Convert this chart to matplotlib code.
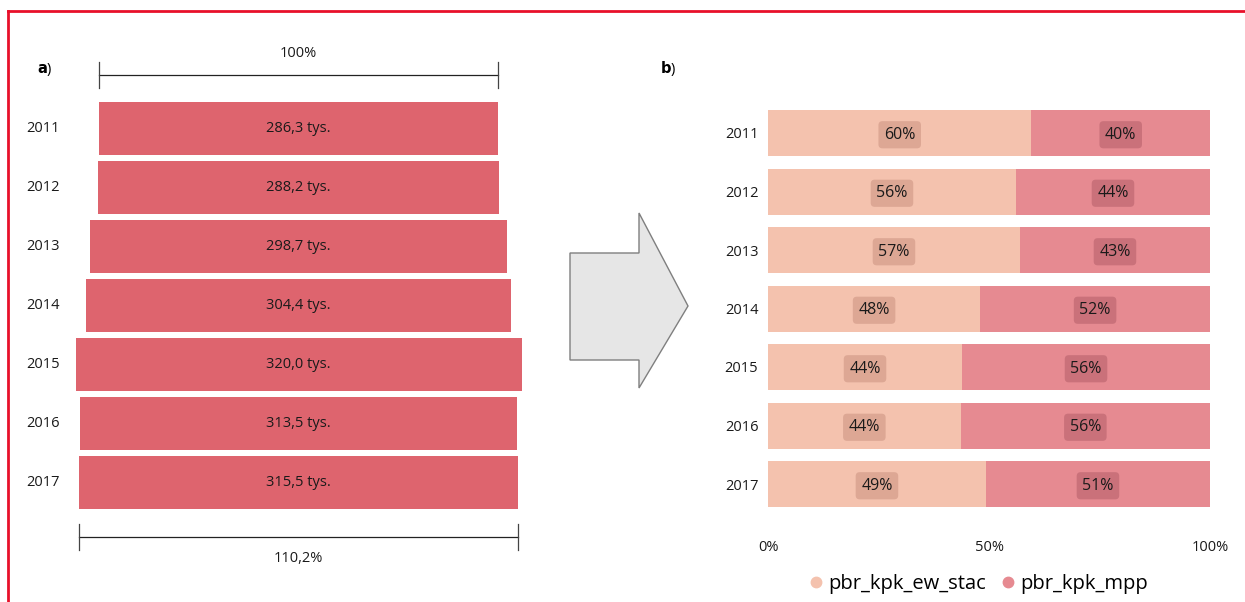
import numpy as np
import matplotlib
matplotlib.use("Agg")
import matplotlib.pyplot as plt
from matplotlib.lines import Line2D
from matplotlib.patches import Polygon
from matplotlib.transforms import blended_transform_factory

plt.rcParams['font.family'] = ['Open Sans', 'DejaVu Sans']

# ---------------- data ----------------
years = ['2011', '2012', '2013', '2014', '2015', '2016', '2017']
totals = [286.3, 288.2, 298.7, 304.4, 320.0, 313.5, 315.5]   # tys.
share_stac = [59.6, 56.1, 57.0, 48.0, 43.9, 43.6, 49.3]       # %
share_mpp = [100 - s for s in share_stac]
series_names = ['pbr_kpk_ew_stac', 'pbr_kpk_mpp']

c_left = '#DE646E'
c_stac = '#F4C2AE'
c_mpp = '#E68A91'

W, H = 1245, 602
fig = plt.figure(figsize=(W / 100, H / 100), dpi=100)


def px_axes(x0, y0, x1, y1):
    # axes placed by pixel box (top-left origin)
    return fig.add_axes([x0 / W, 1 - y1 / H, (x1 - x0) / W, (y1 - y0) / H])


# ---------------- a) centred bars ----------------
axa = px_axes(40, 40, 557, 580)
ypos = np.arange(len(years))
half = (517 / 2) / (446 / 320)
axa.set_xlim(-half, half)
axa.set_ylim((580 - 128.5) / 59, (40 - 128.5) / 59)
axa.barh(ypos, totals, left=[-t / 2 for t in totals], height=0.9, color=c_left)
for i, t in enumerate(totals):
    axa.text(0, i, f'{t:.1f}'.replace('.', ',') + ' tys.', ha='center', va='center',
             fontsize=10.5, color='#1a1a1a')
tr = blended_transform_factory(fig.transFigure, axa.transData)
for i, y in enumerate(years):
    axa.text(43 / W, i, y, transform=tr, ha='center', va='center', fontsize=10.5,
             color='#1a1a1a')
axa.axis('off')

# brackets: first year = 100%, last year relative
ref, last = totals[0], totals[-1]
yb_top = (75 - 128.5) / 59
yb_bot = (537 - 128.5) / 59
tick = 13 / 59
axa.plot([-ref / 2, ref / 2], [yb_top, yb_top], color='#222222', lw=0.9)
for x in (-ref / 2, ref / 2):
    axa.plot([x, x], [yb_top - tick, yb_top + tick], color='#444444', lw=0.9)
axa.text(0, (53 - 128.5) / 59, '100%', ha='center', va='center', fontsize=10.5,
         color='#1a1a1a')
axa.plot([-last / 2, last / 2], [yb_bot, yb_bot], color='#222222', lw=0.9)
for x in (-last / 2, last / 2):
    axa.plot([x, x], [yb_bot - tick, yb_bot + tick], color='#444444', lw=0.9)
axa.text(0, (559 - 128.5) / 59,
         f'{last / ref * 100:.1f}'.replace('.', ',') + '%',
         ha='center', va='center', fontsize=10.5, color='#1a1a1a')

fig.text(45 / W, 1 - 69 / H, r'$\mathbf{a}$)', ha='center', va='center', fontsize=10.5)

# ---------------- arrow ----------------
arrow = Polygon([[570 / W, 1 - 253 / H], [639 / W, 1 - 253 / H], [639 / W, 1 - 213 / H],
                 [688 / W, 1 - 306 / H], [639 / W, 1 - 388 / H], [639 / W, 1 - 360 / H],
                 [570 / W, 1 - 360 / H]], closed=True, transform=fig.transFigure,
                facecolor='#E6E6E6', edgecolor='#7F7F7F', lw=1.0)
fig.add_artist(arrow)

# ---------------- b) 100% stacked ----------------
axb = px_axes(768, 100, 1210, 516)
axb.set_xlim(0, 100)
axb.set_ylim((516 - 133) / 58.5, (100 - 133) / 58.5)
bh = 46 / 58.5
axb.barh(ypos, share_stac, height=bh, color=c_stac)
axb.barh(ypos, share_mpp, left=share_stac, height=bh, color=c_mpp)
for i in range(len(years)):
    axb.text(share_stac[i] / 2, i + 0.03, f'{round(share_stac[i])}%', ha='center',
             va='center', fontsize=11.5, color='#1a1a1a',
             bbox=dict(boxstyle='round,pad=0.35,rounding_size=0.25', fc='#A86A5A',
                       ec='none', alpha=0.3))
    axb.text(share_stac[i] + share_mpp[i] / 2, i + 0.03, f'{round(share_mpp[i])}%',
             ha='center', va='center', fontsize=11.5, color='#1a1a1a',
             bbox=dict(boxstyle='round,pad=0.35,rounding_size=0.25', fc='#8A3A48',
                       ec='none', alpha=0.3))
axb.set_yticks(ypos)
axb.set_yticklabels(years, fontsize=10.5, color='#1a1a1a')
axb.set_xticks([0, 50, 100])
axb.set_xticklabels(['0%', '50%', '100%'], fontsize=10.5, color='#1a1a1a')
axb.tick_params(axis='both', length=0)
axb.tick_params(axis='x', pad=17)
axb.tick_params(axis='y', pad=7)
for s in axb.spines.values():
    s.set_visible(False)

fig.text(668 / W, 1 - 69 / H, r'$\mathbf{b}$)', ha='center', va='center', fontsize=10.5)

handles = [Line2D([], [], marker='o', ls='none', markersize=7.5, color=c_stac),
           Line2D([], [], marker='o', ls='none', markersize=7.5, color=c_mpp)]
fig.legend(handles, series_names, loc='center', bbox_to_anchor=(977 / W, 1 - 584 / H),
           ncol=2, frameon=False, fontsize=14.5, handletextpad=0.1, columnspacing=0.6,
           handlelength=1.0)

# ---------------- frame ----------------
fig.add_artist(Line2D([8 / W, 1], [1 - 11 / H, 1 - 11 / H], color='#E8102A', lw=2,
                      transform=fig.transFigure))
fig.add_artist(Line2D([8 / W, 8 / W], [0, 1 - 11 / H], color='#E8102A', lw=2,
                      transform=fig.transFigure))

fig.savefig('out.png', dpi=100)
